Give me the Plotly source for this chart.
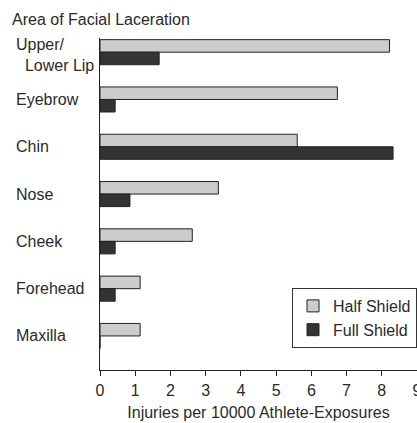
import plotly.graph_objects as go

categories = ["Upper/<br>\u00a0\u00a0Lower Lip", "Eyebrow", "Chin", "Nose", "Cheek", "Forehead", "Maxilla"]
cat_keys = ["Upper/Lower Lip", "Eyebrow", "Chin", "Nose", "Cheek", "Forehead", "Maxilla"]
half_shield = [8.22, 6.74, 5.6, 3.36, 2.62, 1.14, 1.14]
full_shield = [1.68, 0.43, 8.32, 0.85, 0.43, 0.43, 0.0]
x_ticks = list(range(0, 10))

FONT = "Liberation Sans, Arial, sans-serif"
TXT = "#2a2a2a"
FS = 16

fig = go.Figure()
fig.add_trace(go.Bar(
    y=cat_keys, x=half_shield, orientation="h", name="Half Shield",
    marker=dict(color="#cccccc", line=dict(color="#222222", width=1)),
))
fig.add_trace(go.Bar(
    y=cat_keys, x=full_shield, orientation="h", name="Full Shield",
    marker=dict(color="#333333", line=dict(color="#222222", width=1)),
))

PW = 317
annotations = []
for key, label in zip(cat_keys, categories):
    annotations.append(dict(
        x=-86 / PW, xref="paper", xanchor="left",
        y=key, yref="y", yanchor="middle", yshift=(-3 if "<br>" in label else 0),
        text=label, showarrow=False, align="left",
        font=dict(family=FONT, size=FS, color=TXT),
    ))
annotations.append(dict(
    x=-90 / PW, xref="paper", xanchor="left",
    y=1 + (38 - 20) / 332, yref="paper", yanchor="middle", text="Area of Facial Laceration",
    showarrow=False, font=dict(family=FONT, size=FS, color=TXT),
))

fig.update_layout(
    width=417, height=423,
    margin=dict(l=100, r=0, t=38, b=53, autoexpand=False),
    paper_bgcolor="white", plot_bgcolor="white",
    barmode="group", bargap=0.47, bargroupgap=0,
    showlegend=True,
    legend=dict(
        x=1, xanchor="right", y=(370 - 288) / 332, yanchor="top",
        bgcolor="white", bordercolor="#333333", borderwidth=1,
        font=dict(family=FONT, size=FS, color=TXT),
        traceorder="normal",
    ),
    annotations=annotations,
    font=dict(family=FONT, size=FS, color=TXT),
)
fig.update_xaxes(
    range=[0, 9], tickvals=x_ticks, showgrid=False, zeroline=False,
    showline=True, linecolor="#222222", linewidth=1,
    ticks="outside", ticklen=5, tickcolor="#222222",
    tickfont=dict(family=FONT, size=FS, color=TXT),
    ticklabeloverflow="allow", ticklabelstandoff=1, automargin=False,
    title=dict(text="Injuries per 10000 Athlete-Exposures", standoff=8,
               font=dict(family=FONT, size=FS, color=TXT)),
)
fig.update_yaxes(
    type="category", categoryorder="array", categoryarray=cat_keys,
    range=[6.72, -0.3], showticklabels=False, showgrid=False, zeroline=False,
    showline=True, linecolor="#222222", linewidth=1, ticks="", automargin=False,
)

fig.write_html("out.html", config={"displayModeBar": False},
               post_script="document.body.style.margin='0';document.body.style.overflow='hidden';")
